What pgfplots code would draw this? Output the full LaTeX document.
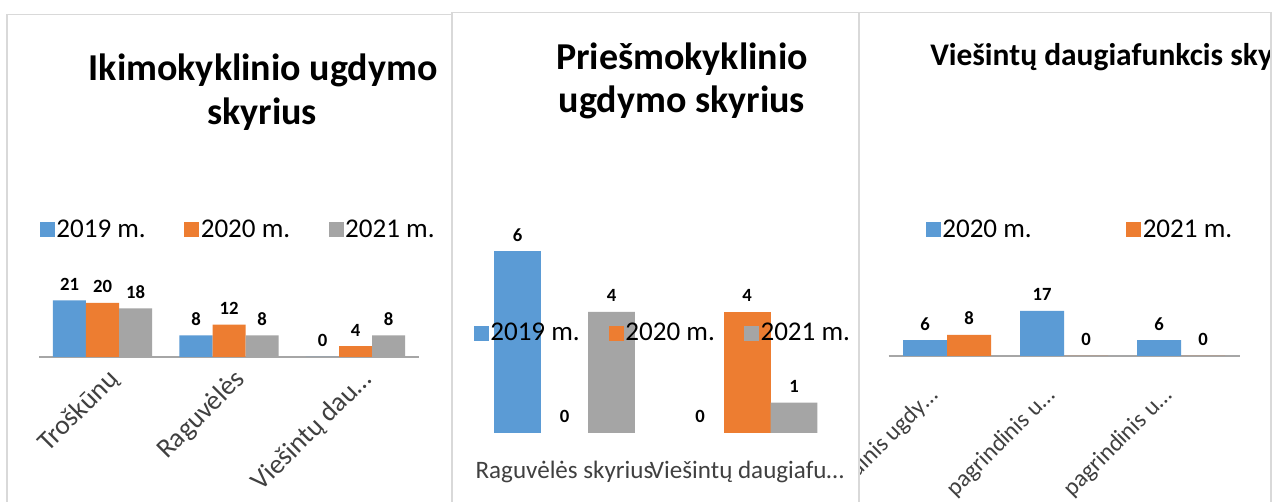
\documentclass[border=0pt]{standalone}
\usepackage{pgfplots}
\pgfplotsset{compat=1.18}
\usepackage{fontspec}
\setmainfont{Carlito}
\definecolor{xblue}{HTML}{5B9BD5}
\definecolor{xorange}{HTML}{ED7D31}
\definecolor{xgray}{HTML}{A5A5A5}
\definecolor{frame}{HTML}{D9D9D9}
\definecolor{axisgray}{HTML}{A6A6A6}
\definecolor{txt}{HTML}{404040}
\pgfplotsset{
  sq/.style={legend image code/.code={\fill[##1,draw=none] (0pt,-5.625pt) rectangle (11.25pt,5.625pt);}},
  xlstyle/.style={
    scale only axis, clip=false, anchor=south west,
    ybar, ymin=0,
    hide y axis,
    axis x line*=bottom,
    major tick length=0pt,
    /pgf/number format/assume math mode=true,
    nodes near coords,
    every node near coord/.append style={font=\fontsize{14}{16}\selectfont\bfseries, text=black, anchor=base, inner sep=0pt, yshift=7.5pt},
    legend style={draw=none, fill=none, inner sep=0pt, outer sep=0pt, font=\fontsize{20.3}{22}\selectfont, text=black, nodes={inner sep=1pt}},
    legend columns=-1,
    legend cell align=left,
  },
}
\begin{document}
\begin{tikzpicture}
\useasboundingbox[fill=white] (0,0) rectangle (955.5pt,376.5pt);
% ---------------- panel 1
\begin{scope}
\clip (0,0) rectangle (339pt,376.5pt);
\begin{axis}[xlstyle, at={(29.4375pt,108.75pt)}, width=284.625pt, height=60.75pt,
  ymax=30, xmin=-0.5, xmax=2.5, xtick={0,1,2},
  xticklabels={Troškūnų,Raguvėlės,Viešintų dau…},
  x axis line style={draw=axisgray, line width=1.1pt},
  bar width=0.2609,
  xticklabel style={font=\fontsize{20.5}{22}\selectfont, text=txt, xshift=2.8pt, yshift=-2.8pt, rotate=45, anchor=north east},
  legend style={at={(0.002,1.568)}, anchor=west, /tikz/every even column/.append style={column sep=28pt}}]
\addplot[fill=xblue, draw=none, bar shift=-0.2609, sq] coordinates {(0,21) (1,8) (2,0)};
\addplot[fill=xorange, draw=none, bar shift=0, sq] coordinates {(0,20) (1,12) (2,4)};
\addplot[fill=xgray, draw=none, bar shift=0.2609, sq] coordinates {(0,18) (1,8) (2,8)};
\legend{2019 m., 2020 m., 2021 m.}
\end{axis}
\begin{scope}[x=0.75pt,y=-0.75pt,yshift=376.5pt]
\node[anchor=base, inner sep=0pt, font=\fontsize{28.5}{30}\selectfont\bfseries] at (263,81) {Ikimokyklinio ugdymo};
\node[anchor=base, inner sep=0pt, font=\fontsize{28.5}{30}\selectfont\bfseries] at (262,125) {skyrius};
\end{scope}
\end{scope}
% ---------------- panel 2
\begin{scope}
\clip (339pt,0) rectangle (644.25pt,376.5pt);
\fill[white] (339pt,0) rectangle (644.25pt,376.5pt);
\begin{axis}[xlstyle, at={(354.9375pt,51.75pt)}, width=273.75pt, height=181.8pt,
  ymax=8, xmin=-0.5, xmax=1.5, xtick={0,1},
  xticklabels={Raguvėlės skyrius,Viešintų daugiafu…},
  x axis line style={draw=none},
  bar width=0.2575,
  xticklabel style={font=\fontsize{18.8}{20}\selectfont, text=txt, anchor=base, yshift=-34pt},
  legend style={at={(0.002,0.4125)}, anchor=west, /tikz/every even column/.append style={column sep=21pt}}]
\addplot[fill=xblue, draw=none, bar shift=-0.2575, sq] coordinates {(0,6)};
\addplot[fill=xorange, draw=none, bar shift=0, sq] coordinates {(1,4)};
\addplot[fill=xgray, draw=none, bar shift=0.2575, sq] coordinates {(0,4) (1,1)};
% zero values (label only, no visible bar)
\addplot[fill=none, draw=none, bar shift=-0.2575, forget plot] coordinates {(1,0)};
\addplot[fill=none, draw=none, bar shift=0, forget plot] coordinates {(0,0)};
\legend{2019 m., 2020 m., 2021 m.}
\end{axis}
\begin{scope}[x=0.75pt,y=-0.75pt,yshift=376.5pt]
\node[anchor=base, inner sep=0pt, font=\fontsize{28.5}{30}\selectfont\bfseries] at (682,70) {Priešmokyklinio};
\node[anchor=base, inner sep=0pt, font=\fontsize{28.5}{30}\selectfont\bfseries] at (682,113) {ugdymo skyrius};
\end{scope}
\end{scope}
% ---------------- panel 3
\begin{scope}
\clip (644.25pt,0) rectangle (953.25pt,376.5pt);
\begin{axis}[xlstyle, at={(666.375pt,109.5pt)}, width=263.25pt, height=59.625pt,
  ymax=30, xmin=-0.5, xmax=2.5, xtick={0,1,2},
  xticklabels={Pradinis ugdy…,pagrindinis u…,pagrindinis u…},
  x axis line style={draw=axisgray, line width=1.1pt},
  bar width=0.376,
  xticklabel style={font=\fontsize{18}{20}\selectfont, text=txt, xshift=-15pt, yshift=-17pt, rotate=45, anchor=north east},
  legend style={at={(0.1068,1.585)}, anchor=west, /tikz/every even column/.append style={column sep=70pt}}]
\addplot[fill=xblue, draw=none, bar shift=-0.188, sq] coordinates {(0,6) (1,17) (2,6)};
\addplot[fill=xorange, draw=none, bar shift=0.188, sq] coordinates {(0,8) (1,0) (2,0)};
\legend{2020 m., 2021 m.}
\end{axis}
\begin{scope}[x=0.75pt,y=-0.75pt,yshift=376.5pt]
\node[anchor=base west, inner sep=0pt, font=\fontsize{23.6}{26}\selectfont\bfseries] at (930,66) {Viešintų daugiafunkcis skyrius};
\end{scope}
\end{scope}
% ---------------- frames
\begin{scope}[x=0.75pt,y=-0.75pt,yshift=376.5pt, draw=frame, line width=1.1pt]
\draw (7,502) -- (7,14.5) -- (452,14.5);
\draw (452,502) -- (452,12.5) -- (859,12.5) -- (859,502);
\draw (859,12.5) -- (1271,12.5) -- (1271,502);
\end{scope}
\end{tikzpicture}
\end{document}
